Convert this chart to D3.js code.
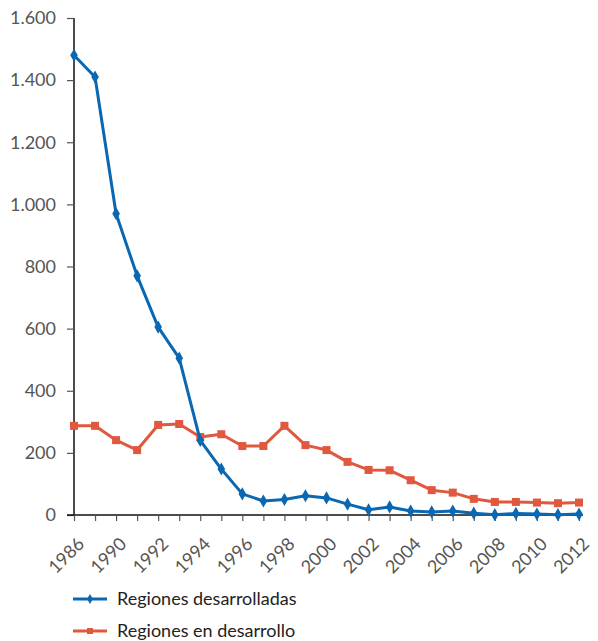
<!DOCTYPE html>
<html><head><meta charset="utf-8">
<script src="https://cdn.jsdelivr.net/npm/d3@7"></script>
<style>body{margin:0;background:#fff;} text{font-family:Lato,"Open Sans",sans-serif;}</style>
</head><body><svg id="c" width="598" height="641"></svg>
<script>
const years = ["1986","1989","1990","1991","1992","1993","1994","1995","1996","1997","1998","1999","2000","2001","2002","2003","2004","2005","2006","2007","2008","2009","2010","2011","2012"];
const developed = [1480,1410,970,770,605,505,240,148,68,45,50,62,55,35,17,26,13,10,13,6,1,5,3,1,3];
const developing = [287,287,241,209,290,293,251,260,222,222,287,225,209,171,145,144,112,80,72,52,42,42,40,38,40];
const yTicks = [0,200,400,600,800,1000,1200,1400,1600];
const labelYears = ["1986","1990","1992","1994","1996","1998","2000","2002","2004","2006","2008","2010","2012"];
const seriesNames = ["Regiones desarrolladas","Regiones en desarrollo"];
const colors = ["#0a67b1","#e0583d"];

const svg = d3.select("#c");
const x = d3.scalePoint().domain(years).range([74,579]);
const y = d3.scaleLinear().domain([0,1600]).range([515,18]);
const fmt = v => v.toLocaleString("de-DE");

// y axis
const ya = svg.append("g").attr("transform","translate(74,0)")
  .call(d3.axisLeft(y).tickValues(yTicks).tickSize(7).tickPadding(11).tickFormat(fmt));
ya.select(".domain").attr("stroke","#111").attr("stroke-width",1.5).attr("d","M0,18V515");
ya.selectAll(".tick line").attr("stroke","#555").attr("stroke-width",1.2);
ya.selectAll("text").attr("font-size",18).attr("fill","#555").style("font-family","Lato,'Open Sans',sans-serif");

// x axis
const xa = svg.append("g").attr("transform","translate(0,515)")
  .call(d3.axisBottom(x).tickSize(6).tickFormat(d => labelYears.includes(d) ? d : ""));
xa.select(".domain").attr("stroke","#111").attr("stroke-width",1.5).attr("d","M67,0H583");
xa.selectAll(".tick line").attr("stroke","#555").attr("stroke-width",1.2);
xa.selectAll("text").attr("font-size",18).attr("fill","#555")
  .style("font-family","Lato,'Open Sans',sans-serif")
  .attr("y",0).attr("dy","0")
  .attr("text-anchor","end").attr("transform","translate(11,30) rotate(-45)");

const line = d3.line().x((d,i)=>x(years[i])).y(d=>y(d));

// developing (red) drawn first
svg.append("path").datum(developing).attr("d",line).attr("fill","none")
  .attr("stroke",colors[1]).attr("stroke-width",3).attr("stroke-linejoin","round");
svg.selectAll(".sq").data(developing).enter().append("rect")
  .attr("x",(d,i)=>x(years[i])-4).attr("y",d=>y(d)-4).attr("width",8).attr("height",8).attr("fill",colors[1]);

svg.append("path").datum(developed).attr("d",line).attr("fill","none")
  .attr("stroke",colors[0]).attr("stroke-width",3).attr("stroke-linejoin","round");
const diamond = d3.symbol().type(d3.symbolDiamond).size(50);
svg.selectAll(".dm").data(developed).enter().append("path")
  .attr("d",diamond).attr("transform",(d,i)=>`translate(${x(years[i])},${y(d)})`).attr("fill",colors[0]);

// legend
const lg = svg.append("g");
seriesNames.forEach((n,i)=>{
  const yy = 599 + i*32;
  lg.append("line").attr("x1",73).attr("x2",107).attr("y1",yy).attr("y2",yy).attr("stroke",colors[i]).attr("stroke-width",3);
  if(i===0) lg.append("path").attr("d",d3.symbol().type(d3.symbolDiamond).size(30)).attr("transform",`translate(90,${yy})`).attr("fill",colors[0]);
  else lg.append("rect").attr("x",87).attr("y",yy-3).attr("width",6).attr("height",6).attr("fill",colors[1]);
  lg.append("text").attr("x",117).attr("y",yy+6).attr("font-size",18).attr("fill","#222").text(n);
});
</script></body></html>
